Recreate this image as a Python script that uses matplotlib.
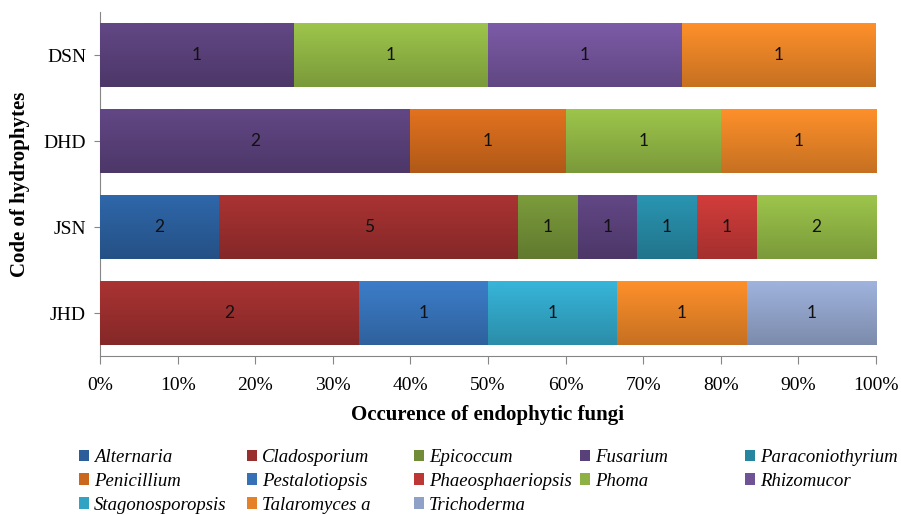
import numpy as np
import matplotlib.pyplot as plt
from matplotlib.patches import Patch
from matplotlib.colors import to_rgb
from matplotlib.font_manager import FontProperties

# categories (bottom to top) and series
codes = ["JHD", "JSN", "DHD", "DSN"]
fungi = ["Alternaria", "Cladosporium", "Epicoccum", "Fusarium", "Paraconiothyrium",
         "Penicillium", "Pestalotiopsis", "Phaeosphaeriopsis", "Phoma", "Rhizomucor",
         "Stagonosporopsis", "Talaromyces a", "Trichoderma"]

# counts per code: JHD, JSN, DHD, DSN
alternaria = [0, 2, 0, 0]
cladosporium = [2, 5, 0, 0]
epicoccum = [0, 1, 0, 0]
fusarium = [0, 1, 2, 1]
paraconiothyrium = [0, 1, 0, 0]
penicillium = [0, 0, 1, 0]
pestalotiopsis = [1, 0, 0, 0]
phaeosphaeriopsis = [0, 1, 0, 0]
phoma = [0, 2, 1, 1]
rhizomucor = [0, 0, 0, 1]
stagonosporopsis = [1, 0, 0, 0]
talaromyces = [1, 0, 1, 1]
trichoderma = [1, 0, 0, 0]

counts = [alternaria, cladosporium, epicoccum, fusarium, paraconiothyrium,
          penicillium, pestalotiopsis, phaeosphaeriopsis, phoma, rhizomucor,
          stagonosporopsis, talaromyces, trichoderma]

# top colour of each bar (Excel-like gradient, darker at bottom)
colors = ["#2f67aa", "#aa3333", "#7c9c3c", "#624785", "#2a95b2",
          "#e2721f", "#3c7dc9", "#d23d3b", "#9dc54b", "#7c5ba7",
          "#37b5d9", "#fe902b", "#9fb3dd"]

serif = "Liberation Serif"
leg_font = FontProperties(family=serif, style="italic", size=13.5)

fig = plt.figure(figsize=(9.01, 5.15), dpi=100)
ax = fig.add_axes([100 / 901, 1 - 356 / 515, 776 / 901, 344 / 515])

y = np.arange(len(codes))
totals = np.array(counts).sum(axis=0)
left = np.zeros(len(codes))
bar_h = 0.74

for name, cnt, col in zip(fungi, counts, colors):
    cnt = np.array(cnt)
    pct = cnt / totals * 100
    bars = ax.barh(y, pct, left=left, height=bar_h, color=col, linewidth=0, zorder=2)
    top = np.array(to_rgb(col))
    bottom = top * 0.78
    grad = np.linspace(0, 1, 64)[:, None, None]
    img = bottom + (top - bottom) * grad
    for i, p in enumerate(bars):
        if cnt[i] == 0:
            continue
        x0, y0 = p.get_xy()
        ax.imshow(img, extent=(x0, x0 + p.get_width(), y0, y0 + p.get_height()),
                  origin="lower", aspect="auto", interpolation="bilinear", zorder=3)
        ax.text(x0 + p.get_width() / 2, y[i], str(cnt[i]), ha="center", va="center",
                fontsize=12.5, family="Lato", color="#111111", zorder=4)
    left += pct

ax.set_xlim(0, 100)
ax.set_ylim(-0.5, 3.5)
ax.set_xticks(np.arange(0, 101, 10))
ax.set_xticklabels([f"{v}%" for v in range(0, 101, 10)], family=serif, fontsize=14)
ax.set_yticks(y)
ax.set_yticklabels(codes, family=serif, fontsize=14)

for s in ["top", "right"]:
    ax.spines[s].set_visible(False)
for s in ["left", "bottom"]:
    ax.spines[s].set_color("#868686")
ax.tick_params(axis="x", direction="out", length=6, color="#868686", pad=9)
ax.tick_params(axis="y", direction="out", length=4, color="#868686", pad=6)

ax.set_xlabel("Occurence of endophytic fungi", family=serif, fontsize=15,
              fontweight="bold", labelpad=8)
ax.set_ylabel("Code of hydrophytes", family=serif, fontsize=15,
              fontweight="bold", labelpad=10)

# legend laid out row by row in five equal columns
handles = [Patch(facecolor=np.array(to_rgb(c)) * 0.9, edgecolor="none") for c in colors]
col_x = [79, 247, 414, 580, 745]
for c in range(5):
    idx = [r * 5 + c for r in range(3) if r * 5 + c < len(fungi)]
    fig.legend([handles[i] for i in idx], [fungi[i] for i in idx],
               loc="upper left", bbox_to_anchor=(col_x[c] / 901, 1 - 449 / 515),
               frameon=False, borderpad=0, borderaxespad=0,
               handlelength=0.55, handleheight=0.55, handletextpad=0.25,
               labelspacing=0.36, prop=leg_font)

fig.savefig("out.png", dpi=100)
